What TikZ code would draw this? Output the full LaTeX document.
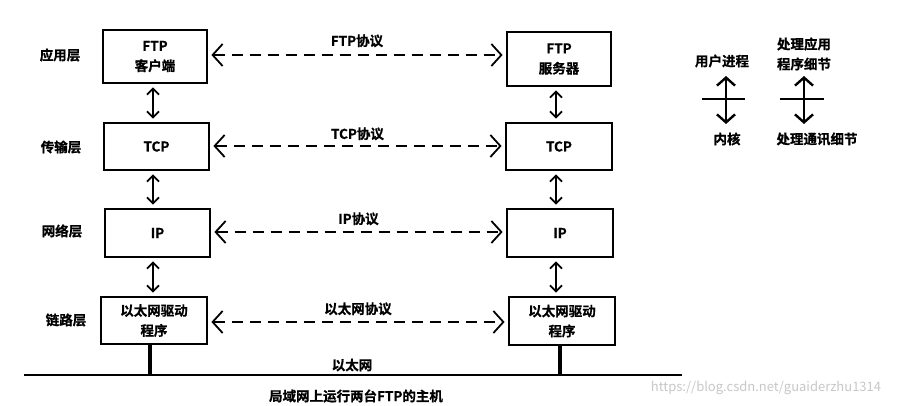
\documentclass[tikz,border=0pt]{standalone}
\usepackage{fontspec}
\setmainfont{Noto Sans CJK SC}[BoldFont={Noto Sans CJK SC Bold}, BoldFeatures={FakeBold=0.8}]
\usetikzlibrary{arrows.meta,calc}
\begin{document}
\begin{tikzpicture}[x=1pt,y=-1pt,
  lbl/.style={font=\fontsize{13.5}{15}\selectfont\bfseries, inner sep=0pt},
  box/.style={draw, line width=2.8pt, font=\fontsize{13.5}{20}\selectfont\bfseries, align=center, inner sep=0pt},
  proto/.style={line width=1.5pt, dash pattern=on 11pt off 7pt, {Straight Barb[length=10pt,width=22pt,line width=1.8pt]}-{Straight Barb[length=10pt,width=22pt,line width=1.8pt]}, shorten <=3pt, shorten >=3pt},
  updown/.style={line width=1.8pt, {Straight Barb[length=6pt,width=12pt]}-{Straight Barb[length=6pt,width=12pt]}, shorten <=3pt, shorten >=3pt},
  legarrow/.style={line width=2.4pt, {Straight Barb[length=8pt,width=18pt]}-{Straight Barb[length=8pt,width=18pt]}},
  stem/.style={line width=4pt}
]
\useasboundingbox (0,0) rectangle (905,406);
% layer labels
\node[lbl] (la1) at (60,55) {应用层};
\node[lbl] (la2) at (61,147) {传输层};
\node[lbl] (la3) at (62,231) {网络层};
\node[lbl] (la4) at (66,320) {链路层};
% left host
\node[box, minimum width=104pt, minimum height=53pt] (L1) at (155,56.5) {FTP\\客户端};
\node[box, minimum width=105pt, minimum height=47pt] (L2) at (156.5,146.5) {TCP};
\node[box, minimum width=105pt, minimum height=48pt] (L3) at (157.5,233) {IP};
\node[box, minimum width=106pt, minimum height=47pt] (L4) at (154,320.5) {以太网驱动\\程序};
% right host
\node[box, minimum width=104pt, minimum height=54pt] (R1) at (559,59) {FTP\\服务器};
\node[box, minimum width=106pt, minimum height=47pt] (R2) at (559,146.5) {TCP};
\node[box, minimum width=106pt, minimum height=48pt] (R3) at (560,233) {IP};
\node[box, minimum width=106pt, minimum height=48pt] (R4) at (562,321) {以太网驱动\\程序};
% vertical arrows
\coordinate (la) at (153,0);
\coordinate (ra) at (556,0);
\draw[updown] (la |- L1.south) -- (la |- L2.north);
\draw[updown] (la |- L2.south) -- (la |- L3.north);
\draw[updown] (la |- L3.south) -- (la |- L4.north);
\draw[updown] (ra |- R1.south) -- (ra |- R2.north);
\draw[updown] (ra |- R2.south) -- (ra |- R3.north);
\draw[updown] (ra |- R3.south) -- (ra |- R4.north);
% protocol arrows
\draw[proto] (L1.east |- 0,55) -- (R1.west |- 0,55) node[lbl, midway, above=7pt] (p1) {FTP协议};
\draw[proto] (L2.east |- 0,146) -- (R2.west |- 0,146) node[lbl, midway, above=5pt] (p2) {TCP协议};
\draw[proto] (L3.east |- 0,232) -- (R3.west |- 0,232) node[lbl, midway, above=6pt] (p3) {IP协议};
\draw[proto] (L4.east |- 0,322) -- (R4.west |- 0,322) node[lbl, midway, above=6pt] (p4) {以太网协议};
% ethernet
\coordinate (e1) at (24,375);
\coordinate (e2) at (682,375);
\draw[line width=2pt] (e1) -- (e2);
\coordinate (s1) at (150,375);
\coordinate (s2) at (560,375);
\draw[stem] (s1 |- L4.south) -- (s1);
\draw[stem] (s2 |- R4.south) -- (s2);
\node[lbl] (eth) at (352,365) {以太网};
\node[lbl] (cap) at (356,396) {局域网上运行两台FTP的主机};
% legend
\node[lbl] (u1) at (722,61) {用户进程};
\coordinate (a1t) at (726,76);
\coordinate (a1b) at (726,124);
\draw[legarrow] (a1t) -- (a1b);
\coordinate (h1a) at (702,99);
\coordinate (h1b) at (745,99);
\draw[line width=1.6pt] (h1a) -- (h1b);
\node[lbl] (k1) at (727,139) {内核};
\node[lbl] (u2) at (804,44) {处理应用};
\node[lbl] (u2b) at (804,64) {程序细节};
\coordinate (a2t) at (804,76);
\coordinate (a2b) at (804,124);
\draw[legarrow] (a2t) -- (a2b);
\coordinate (h2a) at (780,99);
\coordinate (h2b) at (824,99);
\draw[line width=1.6pt] (h2a) -- (h2b);
\node[lbl] (k2) at (817,139) {处理通讯细节};
% watermark
\node[font=\fontsize{13}{15}\selectfont, text=black!22, inner sep=0pt] (wm) at (766,388) {https://blog.csdn.net/guaiderzhu1314};
\end{tikzpicture}
\end{document}
